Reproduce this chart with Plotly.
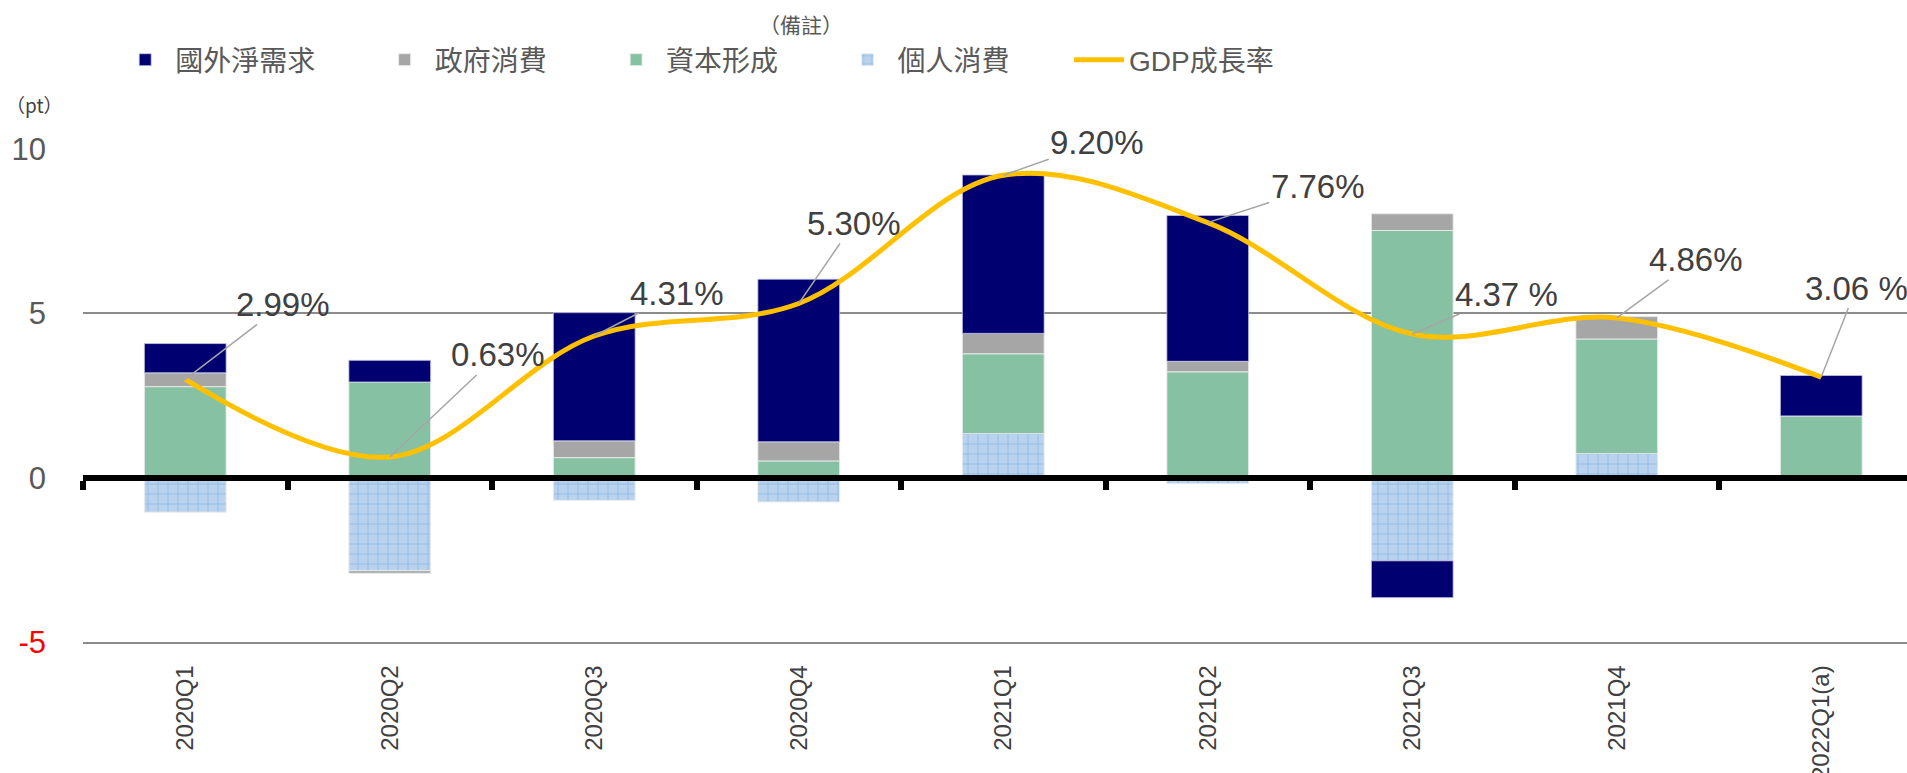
import plotly.graph_objects as go

# ---- data ----
categories = ["2020Q1", "2020Q2", "2020Q3", "2020Q4", "2021Q1", "2021Q2", "2021Q3", "2021Q4", "2022Q1(a)"]
personal_consumption = [-1.05, -2.83, -0.69, -0.74, 1.34, -0.18, -2.53, 0.73, 0.00]
capital_formation = [2.77, 2.91, 0.61, 0.51, 2.43, 3.22, 7.52, 3.49, 1.88]
government_consumption = [0.42, -0.08, 0.51, 0.58, 0.62, 0.32, 0.51, 0.68, 0.00]
net_external_demand = [0.89, 0.66, 3.90, 4.95, 4.82, 4.44, -1.12, -0.04, 1.23]
gdp_growth = [2.99, 0.63, 4.31, 5.30, 9.20, 7.76, 4.37, 4.86, 3.06]
gdp_labels = ["2.99%", "0.63%", "4.31%", "5.30%", "9.20%", "7.76%", "4.37 %", "4.86%", "3.06 %"]
y_ticks = [-5, 0, 5, 10]
y_ticktext = ["<span style='color:#ff0000'>-5</span>", "0", "5", "10"]

# label offsets (px) from point to label centre
label_offsets = [(98, -75), (108, -102), (83, -43), (55, -80), (94, -33),
                 (110, -36), (94, -40), (79, -58), (35, -89)]

FONT = "Liberation Sans, Arial, Noto Sans CJK TC, sans-serif"
CJK_FONT = "Noto Sans CJK TC, Liberation Sans, sans-serif"
W, H = 1907, 773
ML, MT, MB = 83, 149, 131
cat_w = 204.5
x_max = -0.5 + (W - ML) / cat_w
PAD = "\u00a0" * 7

fig = go.Figure()
bar_line = dict(color="rgba(235,235,235,0.9)", width=1)
fig.add_trace(go.Bar(
    x=categories, y=personal_consumption, name="個人消費" + PAD, legendrank=4,
    marker=dict(color="#b4d0ec", line=bar_line,
                pattern=dict(shape="+", fgcolor="#5b9bd5", bgcolor="#b9d3ee", size=10, solidity=0.15)),
))
fig.add_trace(go.Bar(x=categories, y=capital_formation, name="資本形成" + PAD, legendrank=3,
                     marker=dict(color="#86c1a3", line=bar_line)))
fig.add_trace(go.Bar(x=categories, y=government_consumption, name="政府消費" + PAD, legendrank=2,
                     marker=dict(color="#a6a6a6", line=bar_line)))
fig.add_trace(go.Bar(x=categories, y=net_external_demand, name="國外淨需求" + PAD, legendrank=1,
                     marker=dict(color="#000070", line=dict(color="rgba(200,200,230,0.8)", width=1))))
fig.add_trace(go.Scatter(x=categories, y=gdp_growth, name="GDP成長率", legendrank=5,
                         mode="lines", line=dict(color="#ffc000", width=5, shape="spline", smoothing=1.0),
                         cliponaxis=False))

annotations = []
for c, v, t, (ax, ay) in zip(categories, gdp_growth, gdp_labels, label_offsets):
    annotations.append(dict(
        x=c, y=v, xref="x", yref="y", text=t, showarrow=True, arrowhead=0,
        arrowwidth=1.5, arrowcolor="#a6a6a6", ax=ax, ay=ay, standoff=0,
        font=dict(family=FONT, size=33, color="#404040"),
    ))
annotations.append(dict(text="（備註）", xref="paper", yref="paper", x=(801 - ML) / (W - ML),
                        y=1 + (MT - 24) / (H - MT - MB), xanchor="center", yanchor="middle",
                        showarrow=False, font=dict(family=CJK_FONT, size=21, color="#595959")))
annotations.append(dict(text="（pt）", xref="paper", yref="paper", x=-(ML - 4) / (W - ML),
                        y=1 + (MT - 104) / (H - MT - MB), xanchor="left", yanchor="middle",
                        showarrow=False, font=dict(family=CJK_FONT, size=19, color="#404040")))

fig.update_layout(
    width=W, height=H,
    margin=dict(l=ML, r=0, t=MT, b=MB, autoexpand=False),
    barmode="relative", bargap=0.6,
    plot_bgcolor="white", paper_bgcolor="white",
    font=dict(family=FONT, color="#595959"),
    showlegend=True,
    legend=dict(orientation="h", xref="container", yref="container", x=0.0604, y=1 - 60 / H,
                xanchor="left", yanchor="middle", font=dict(size=28, color="#595959"),
                itemwidth=50, bgcolor="rgba(0,0,0,0)"),
    xaxis=dict(range=[-0.5, x_max], showgrid=False, showline=True, linecolor="#8c8c8c", linewidth=1.5,
               tickangle=-90, tickfont=dict(size=24, color="#404040"), ticks="", ticklabelstandoff=12,
               automargin=False),
    xaxis2=dict(overlaying="x", matches="x", anchor="free", position=5 / 15, side="bottom",
                showline=True, linecolor="black", linewidth=6, showgrid=False, automargin=False,
                tickmode="array", tickvals=[i - 0.5 for i in range(9)], ticks="outside",
                ticklen=9, tickwidth=6, tickcolor="black", showticklabels=False, layer="above traces"),
    yaxis=dict(range=[-5, 10], tickvals=y_ticks, ticktext=y_ticktext, showgrid=True,
               gridcolor="#8c8c8c", gridwidth=1.5, zeroline=False, automargin=False,
               tickfont=dict(size=31, color="#595959"), ticklabelstandoff=36),
    annotations=annotations,
)
# an invisible trace on xaxis2 to guarantee the axis is drawn
fig.add_trace(go.Scatter(x=categories, y=[None] * len(categories), xaxis="x2", showlegend=False,
                         hoverinfo="skip"))

fig.write_html("out.html", config={"displayModeBar": False},
               post_script="document.body.style.margin='0';document.body.style.overflow='hidden';")
